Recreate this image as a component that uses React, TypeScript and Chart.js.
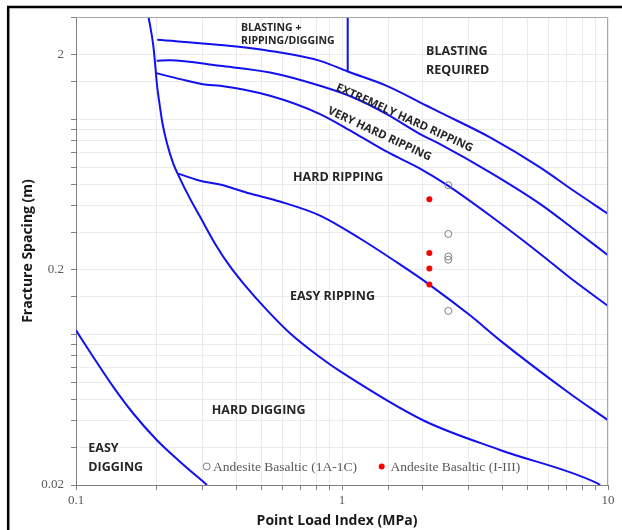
import { useEffect, useRef } from 'react';
import { Chart, registerables } from 'chart.js';

Chart.register(...registerables);

// ---- axis ticks ----
const xTickLabels = [0.1, 1, 10];
const yTickLabels = [0.02, 0.2, 2];

// ---- measured samples ----
const series1Label = 'Andesite Basaltic (1A-1C)';
const series1X = [2.51, 2.51, 2.51, 2.51, 2.51];
const series1Y = [0.495, 0.294, 0.231, 0.223, 0.129];

const series2Label = 'Andesite Basaltic (I-III)';
const series2X = [2.13, 2.13, 2.13, 2.13];
const series2Y = [0.426, 0.24, 0.203, 0.171];

// ---- class boundaries ----
const easyDiggingX = [0.1, 0.1161, 0.1381, 0.1642, 0.2011, 0.2424, 0.3109];
const easyDiggingY = [0.1048, 0.0788, 0.0572, 0.043, 0.0324, 0.0261, 0.02];

const hardDiggingX = [0.1874, 0.1953, 0.1999, 0.2011, 0.2057, 0.2111, 0.2193, 0.2321, 0.246, 0.2683, 0.2925, 0.3332, 0.3793, 0.4317, 0.5224, 0.6374, 0.8266, 1.0087, 2.016, 3.926, 9.094, 9.33];
const hardDiggingY = [3.0, 2.2, 1.627, 1.488, 1.201, 0.97, 0.784, 0.624, 0.532, 0.429, 0.354, 0.265, 0.2076, 0.1695, 0.13, 0.1015, 0.0785, 0.0662, 0.04, 0.0291, 0.0204, 0.02];

const easyRippingX = [0.2424, 0.2925, 0.3477, 0.451, 0.5846, 0.8266, 1.1685, 1.652, 2.129, 3.0286, 3.926, 6.995, 10];
const easyRippingY = [0.561, 0.52, 0.499, 0.453, 0.416, 0.358, 0.28, 0.2121, 0.171, 0.123, 0.0941, 0.0546, 0.04];

const hardRippingX = [0.1999, 0.246, 0.31, 0.3477, 0.5362, 0.8266, 1.1027, 1.4728, 1.9648, 2.503, 3.6003, 5.5517, 7.4054, 10];
const hardRippingY = [1.645, 1.543, 1.451, 1.436, 1.29, 1.061, 0.872, 0.709, 0.592, 0.493, 0.358, 0.238, 0.179, 0.136];

const veryHardRippingX = [0.2011, 0.2256, 0.3477, 0.5362, 0.8266, 1.1027, 1.4728, 1.9648, 2.3362, 3.6003, 5.5517, 7.4054, 10];
const veryHardRippingY = [1.876, 1.89, 1.778, 1.655, 1.436, 1.267, 1.061, 0.857, 0.77, 0.569, 0.406, 0.311, 0.234];

const extremelyHardRippingX = [0.2021, 0.3477, 0.5362, 0.8266, 1.0506, 1.4728, 2.0821, 2.3362, 3.6003, 5.5517, 7.4054, 10];
const extremelyHardRippingY = [2.349, 2.225, 2.087, 1.876, 1.673, 1.436, 1.16, 1.08, 0.827, 0.6, 0.468, 0.365];

const blastingDividerX = [1.0506, 1.0506];
const blastingDividerY = [3.0, 1.673];

// ---- zone labels ----
const zoneLabels = ['BLASTING +', 'RIPPING/DIGGING', 'BLASTING', 'REQUIRED', 'EXTREMELY HARD RIPPING', 'VERY HARD RIPPING', 'HARD RIPPING', 'EASY RIPPING', 'HARD DIGGING', 'EASY', 'DIGGING'];

const AXIS_X_TITLE = 'Point Load Index (MPa)';
const AXIS_Y_TITLE = 'Fracture Spacing (m)';

const LINE_BLUE = 'rgb(16,16,240)';
const SANS = '"Open Sans", "Liberation Sans", sans-serif';
const SERIF = '"Liberation Serif", "Times New Roman", serif';

// annotation placement (data coordinates) for each zone label
const zoneLabelPlacement = [
  { x: 0.4172, y: 2.678, size: 10.5, align: 'left', rot: 0 },
  { x: 0.4172, y: 2.323, size: 10.5, align: 'left', rot: 0 },
  { x: 2.07, y: 2.066, size: 12.5, align: 'left', rot: 0 },
  { x: 2.07, y: 1.686, size: 12.5, align: 'left', rot: 0 },
  { x: 1.718, y: 1.018, size: 11.3, align: 'center', rot: 24.5 },
  { x: 1.384, y: 0.857, size: 11.3, align: 'center', rot: 25 },
  { x: 0.6543, y: 0.537, size: 12.5, align: 'left', rot: 0 },
  { x: 0.6374, y: 0.1507, size: 12.5, align: 'left', rot: 0 },
  { x: 0.3237, y: 0.04457, size: 12.5, align: 'left', rot: 0 },
  { x: 0.1112, y: 0.02954, size: 12.5, align: 'left', rot: 0 },
  { x: 0.1112, y: 0.02412, size: 12.5, align: 'left', rot: 0 },
];

const zip = (xs: number[], ys: number[]) => xs.map((x, i) => ({ x, y: ys[i] }));

const boundary = (xs: number[], ys: number[], label: string, monotone = true) => ({
  label,
  data: zip(xs, ys),
  showLine: true,
  borderColor: LINE_BLUE,
  backgroundColor: LINE_BLUE,
  borderWidth: 2,
  pointRadius: 0,
  pointHoverRadius: 0,
  cubicInterpolationMode: monotone ? 'monotone' : 'default',
  tension: 0,
  isBoundary: true,
});

const matchTick = (v: number, list: number[]) => {
  const m = list.find((t) => Math.abs(t - v) / t < 1e-6);
  return m === undefined ? '' : String(m);
};

const decorPlugin = {
  id: 'decor',
  beforeDraw(chart: any) {
    const { ctx } = chart;
    ctx.save();
    ctx.fillStyle = '#ffffff';
    ctx.fillRect(0, 0, chart.width, chart.height);
    ctx.restore();
  },
  afterDatasetsDraw(chart: any) {
    const { ctx, chartArea: a, scales } = chart;
    const xs = scales.x;
    const ys = scales.y;
    ctx.save();
    // zone labels
    ctx.fillStyle = '#262626';
    ctx.textBaseline = 'middle';
    zoneLabels.forEach((txt, i) => {
      const p = zoneLabelPlacement[i];
      const px = xs.getPixelForValue(p.x);
      const py = ys.getPixelForValue(p.y);
      ctx.save();
      ctx.translate(px, py);
      if (p.rot) ctx.rotate((p.rot * Math.PI) / 180);
      ctx.font = `700 ${p.size}px ${SANS}`;
      ctx.textAlign = p.align;
      ctx.fillText(txt, 0, 0);
      ctx.restore();
    });

    // legend inside plot area
    const legendY = a.bottom - 18.5;
    const items = chart.data.datasets.filter((d: any) => !d.isBoundary);
    const markerX = [206.7, 381.7];
    const textX = [213, 390.5];
    ctx.font = `13.5px ${SERIF}`;
    ctx.textAlign = 'left';
    items.forEach((d: any, i: number) => {
      ctx.beginPath();
      ctx.arc(markerX[i], legendY, d.pointRadius, 0, Math.PI * 2);
      if (d.pointBorderWidth > 0) {
        ctx.lineWidth = d.pointBorderWidth;
        ctx.strokeStyle = d.pointBorderColor;
        ctx.stroke();
      } else {
        ctx.fillStyle = d.pointBackgroundColor;
        ctx.fill();
      }
      ctx.fillStyle = '#595959';
      ctx.fillText(d.label, textX[i], legendY + 0.5);
    });

    // plot-area frame (top / right)
    ctx.strokeStyle = '#a6a6a6';
    ctx.lineWidth = 1;
    ctx.beginPath();
    ctx.moveTo(a.left, a.top + 0.5);
    ctx.lineTo(a.right - 0.5, a.top + 0.5);
    ctx.lineTo(a.right - 0.5, a.bottom);
    ctx.stroke();
    ctx.restore();
  },
  afterDraw(chart: any) {
    const { ctx } = chart;
    ctx.save();
    // axis titles
    ctx.fillStyle = '#1a1a1a';
    ctx.font = `700 14px ${SANS}`;
    ctx.textAlign = 'center';
    ctx.textBaseline = 'middle';
    ctx.fillText(AXIS_X_TITLE, 337, 521);
    ctx.save();
    ctx.translate(28, 251);
    ctx.rotate(-Math.PI / 2);
    ctx.fillText(AXIS_Y_TITLE, 0, 0);
    ctx.restore();
    // outer frame
    ctx.strokeStyle = '#000000';
    ctx.lineWidth = 2.5;
    ctx.beginPath();
    ctx.moveTo(8.2, chart.height);
    ctx.lineTo(8.2, 7);
    ctx.lineTo(chart.width, 7);
    ctx.stroke();
    ctx.restore();
  },
};

export default function App() {
  const ref = useRef<HTMLCanvasElement | null>(null);

  useEffect(() => {
    if (!ref.current) return;
    const chart = new Chart(ref.current, {
      type: 'scatter',
      data: {
        datasets: [
          {
            label: series1Label,
            data: zip(series1X, series1Y),
            pointRadius: 3.5,
            pointBorderWidth: 1,
            pointBorderColor: '#808080',
            pointBackgroundColor: 'rgba(255,255,255,0)',
            showLine: false,
          },
          {
            label: series2Label,
            data: zip(series2X, series2Y),
            pointRadius: 3,
            pointBorderWidth: 0,
            pointBorderColor: '#ff0000',
            pointBackgroundColor: '#ff0000',
            showLine: false,
          },
          boundary(easyDiggingX, easyDiggingY, 'easy digging'),
          boundary(hardDiggingX, hardDiggingY, 'hard digging'),
          boundary(easyRippingX, easyRippingY, 'easy ripping'),
          boundary(hardRippingX, hardRippingY, 'hard ripping'),
          boundary(veryHardRippingX, veryHardRippingY, 'very hard ripping'),
          boundary(extremelyHardRippingX, extremelyHardRippingY, 'extremely hard ripping'),
          boundary(blastingDividerX, blastingDividerY, 'divider', false),
        ] as any,
      },
      options: {
        animation: false,
        responsive: false,
        devicePixelRatio: 1,
        events: [],
        layout: { padding: { top: 17, right: 14, left: 0, bottom: 0 } },
        plugins: {
          legend: { display: false },
          tooltip: { enabled: false },
        },
        scales: {
          x: {
            type: 'logarithmic',
            min: 0.1,
            max: 10,
            afterFit: (s: any) => {
              s.height = 45;
            },
            ticks: {
              autoSkip: false,
              maxRotation: 0,
              padding: 3,
              color: '#595959',
              font: { family: SERIF, size: 13 },
              callback: (v: any) => matchTick(Number(v), xTickLabels),
            },
            grid: { color: '#ebebeb', tickColor: '#808080', tickLength: 5, drawTicks: true },
            border: { color: '#808080', width: 1 },
          },
          y: {
            type: 'logarithmic',
            min: 0.02,
            max: 3,
            afterFit: (s: any) => {
              s.width = 76;
            },
            ticks: {
              autoSkip: false,
              padding: 7,
              color: '#595959',
              font: { family: SERIF, size: 13 },
              callback: (v: any) => matchTick(Number(v), yTickLabels),
            },
            grid: { color: '#ebebeb', tickColor: '#808080', tickLength: 5, drawTicks: true },
            border: { color: '#808080', width: 1 },
          },
        },
      } as any,
      plugins: [decorPlugin],
    });
    return () => chart.destroy();
  }, []);

  return (
    <canvas
      ref={ref}
      width={622}
      height={530}
      style={{ position: 'fixed', left: 0, top: 0, width: 622, height: 530 }}
    />
  );
}
